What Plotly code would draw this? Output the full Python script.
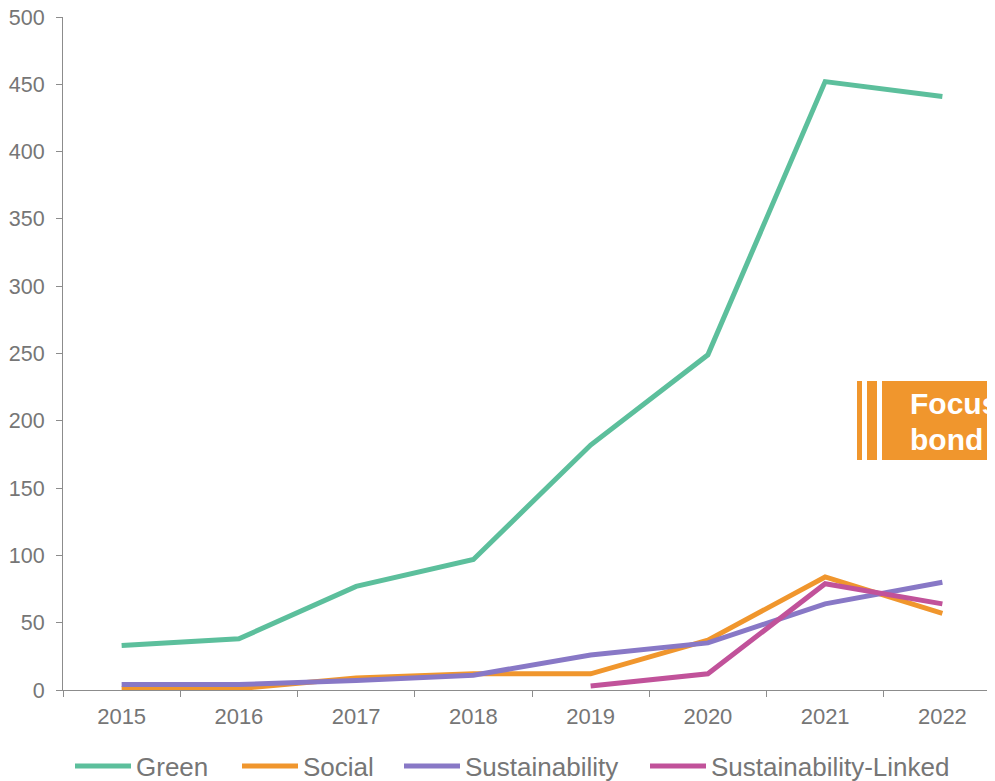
import plotly.graph_objects as go

years = ["2015", "2016", "2017", "2018", "2019", "2020", "2021", "2022"]
green = [33, 38, 77, 97, 182, 249, 452, 441]
social = [1, 1, 9, 12, 12, 37, 84, 57]
sustainability = [4, 4, 7, 11, 26, 35, 64, 80]
sust_linked = [None, None, None, None, 3, 12, 79, 64]

series = [
    ("Green", green, "#5CBF9C"),
    ("Social", social, "#F0962D"),
    ("Sustainability", sustainability, "#8878C6"),
    ("Sustainability-Linked", sust_linked, "#C1529A"),
]

OFF = 8  # page offset of the figure (body margin)
W, H = 995 - 2 * OFF, 781 - OFF
L, R, T = 63 - OFF, 0, 17 - OFF
B = H - (690 - OFF)
pw, ph = W - L - R, H - T - B

def px(x):  # reference page x -> paper
    return (x - OFF - L) / pw

def py(y):  # reference page y -> paper
    return (H - B - (y - OFF)) / ph

fig = go.Figure()
legend_x = [70, 237, 399, 645]
legend_names = ["legend", "legend2", "legend3", "legend4"]
for i, (name, vals, col) in enumerate(series):
    fig.add_trace(go.Scatter(
        x=years, y=vals, name=name, mode="lines",
        line=dict(color=col, width=5),
        legend=legend_names[i],
        connectgaps=False,
    ))

gray = "#767676"
axcol = "#8C8C8C"
layout_legends = {}
for i, ln in enumerate(legend_names):
    layout_legends[ln] = dict(
        x=px(legend_x[i]), xanchor="left",
        y=py(766), yanchor="middle",
        orientation="h", bgcolor="rgba(0,0,0,0)",
        font=dict(family="Liberation Sans, Arial", size=26, color=gray),
        itemwidth=56, borderwidth=0, tracegroupgap=0,
    )

fig.update_layout(
    width=W, height=H,
    margin=dict(l=L, r=R, t=T, b=B, autoexpand=False),
    paper_bgcolor="white", plot_bgcolor="white",
    font=dict(family="Liberation Sans, Arial", size=22, color=gray),
    showlegend=True,
    **layout_legends,
)
fig.update_xaxes(
    type="category", range=[-0.5, -0.5 + pw / 117.25],
    showgrid=False, showline=True, linecolor=axcol, linewidth=1,
    ticks="outside", tickson="boundaries", ticklen=6, tickcolor=axcol,
    tickfont=dict(size=22, color=gray), zeroline=False,
    ticklabelstandoff=7, ticklabeloverflow="allow",
)
fig.update_yaxes(
    range=[0, 500], tickvals=list(range(0, 501, 50)),
    showgrid=False, showline=True, linecolor=axcol, linewidth=1,
    ticks="outside", ticklen=6, tickcolor=axcol,
    tickfont=dict(size=21.5, color=gray), zeroline=False,
    ticklabelstandoff=7, ticklabeloverflow="allow",
)

orange = "#F0962D"
for x0, x1 in [(857, 862), (867, 877), (882, 1010)]:
    fig.add_shape(type="rect", xref="paper", yref="paper",
                  x0=px(x0), x1=px(x1), y0=py(460), y1=py(381),
                  fillcolor=orange, line=dict(width=0), layer="above")

for txt, yc in [("Focus", 403), ("bond", 439)]:
    fig.add_annotation(xref="paper", yref="paper", x=px(908), y=py(yc),
                       xanchor="left", yanchor="middle", text=f"<b>{txt}</b>",
                       showarrow=False,
                       font=dict(family="Liberation Sans, Arial", size=30, color="white"))

fig.write_html("out.html")
